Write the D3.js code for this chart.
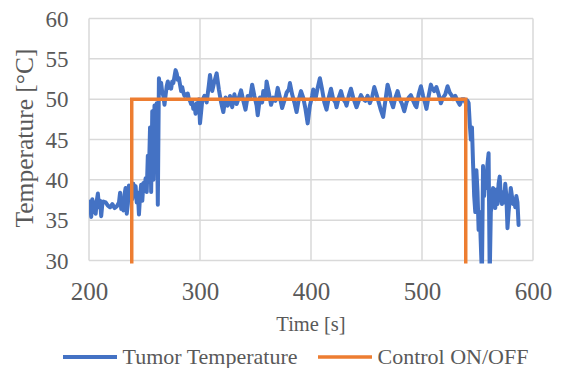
<!DOCTYPE html>
<html><head><meta charset="utf-8">
<script src="https://cdn.jsdelivr.net/npm/d3@7"></script>
<style>html,body{margin:0;padding:0;background:#fff;}svg{display:block;font-family:'Liberation Serif','Times New Roman',serif;}svg text{font-family:'Liberation Serif','Times New Roman',serif !important;}</style>
</head><body>
<svg id="chart" width="561" height="368"></svg>
<script>
const timeSec = [200,201,202,203,204,205,206,207,208,209,210,211,212,213,215,217,219,221,223,225,227,228,229,230,231,232,233,234,235,236,237,238,239,
240,241,242,243,244,245,246,247,248,249,250,251,252,253,254,255,256,257,258,259,260,261,262,263,264,265,266,267,268,269,270,271,272,273,274,275,276,277,278,279,280,281,282,283,284,285,286,287,288,289,290,291,292,293,294,295,296,297,298,299,
300,302,304,306,308,309,311,313,315,317,319,321,323,325,327,329,331,333,335,337,339,341,343,345,347,349,351,352,354,356,357,359,360,362,364,366,368,370,372,374,376,378,380,381,383,385,387,389,391,393,395,397,399,401,402,404,406,408,410,412,414,416,418,420,422,423,425,427,429,431,432,434,436,438,440,441,443,445,447,449,451,453,455,457,459,461,463,465,467,469,471,472,474,476,478,480,482,484,486,488,490,492,494,495,497,499,501,503,504,506,508,509,511,513,515,517,519,521,523,525,527,528,530,532,534,536,538,539,540,541,542,543,544,545,546,547,548,549,550,551,552,553,554,555,556,557,558,559,560,561,562,563,564,565,566,567,568,569,570,571,572,573,574,575,576,577,578,579,580,581,582,583,584,585,586,587];
const tumorTemp = [36.0,37.3,35.4,37.6,36.0,37.2,35.8,37.4,38.3,36.6,37.4,35.5,37.0,37.3,37.2,36.8,36.6,37.0,36.5,36.7,37.2,38.4,36.4,37.6,36.2,38.2,39.0,35.8,37.0,39.3,38.0,39.2,37.6,
39.5,38.0,39.2,37.2,38.4,35.7,38.0,39.4,37.4,39.6,38.6,40.2,38.5,43.0,41.0,46.5,38.5,48.5,40.0,49.2,44.0,49.5,36.9,52.6,51.5,52.0,50.8,50.4,49.3,50.5,51.6,52.2,51.4,51.8,51.3,52.2,52.0,52.8,53.6,53.2,52.4,52.6,51.8,51.0,51.5,50.8,50.4,50.6,50.4,50.7,50.0,49.8,49.4,49.7,48.8,49.3,48.2,49.5,48.6,50.0,
47.0,49.8,50.4,49.6,51.8,53.0,51.0,52.2,53.2,51.2,49.6,48.4,50.2,49.2,50.4,49.0,50.6,49.4,50.2,51.1,49.8,48.7,50.4,50.0,51.8,50.4,49.2,48.0,50.2,49.6,51.0,50.2,52.2,50.8,49.3,50.2,49.8,51.4,50.2,48.9,49.8,50.8,51.2,52.0,50.6,49.6,48.4,50.0,51.0,50.2,48.8,47.0,49.2,50.4,51.2,50.0,51.4,52.6,51.2,49.6,48.7,50.2,51.3,50.0,49.6,49.0,50.2,51.0,50.0,49.6,49.2,50.4,51.3,50.2,49.4,49.0,49.8,50.5,50.0,49.8,50.4,49.5,50.2,51.5,50.6,49.6,48.6,47.8,49.8,51.8,50.8,49.8,49.0,50.2,51.0,50.0,49.4,48.5,49.6,50.2,50.5,49.8,49.2,49.0,50.6,51.6,50.4,49.4,48.8,50.4,51.8,51.4,51.0,51.5,50.6,49.5,50.2,50.6,51.6,50.8,50.4,50.0,50.4,49.8,49.3,50.0,50.0,49.6,49.9,49.8,49.5,47.0,45.0,46.5,42.0,38.0,36.0,41.2,38.5,33.8,36.0,32.0,28.0,41.7,38.0,40.5,39.0,42.0,43.3,28.0,36.0,37.0,39.0,38.5,36.5,38.8,37.0,39.5,40.4,38.0,37.0,38.5,37.2,39.5,38.0,34.0,36.0,37.5,39.0,38.0,37.0,37.6,36.6,38.0,37.2,34.4];

const controlTime = [238.5, 238.5, 539.4, 539.4];
const controlValue = [0, 50, 50, 0];

const xTicks = [200, 300, 400, 500, 600];
const yTicks = [30, 35, 40, 45, 50, 55, 60];
const seriesNames = ["Tumor Temperature", "Control ON/OFF"];
const seriesColors = ["#4472C4", "#ED7D31"];

const svg = d3.select("#chart");
const pL = 89, pR = 533, pT = 18.5, pB = 260.5;
const x = d3.scaleLinear().domain([200, 600]).range([pL, pR]);
const y = d3.scaleLinear().domain([30, 60]).range([pB, pT]);
const font = "'Liberation Serif','Times New Roman',serif";
const textColor = "#595959";

// gridlines
svg.append("g").selectAll("line").data(yTicks).join("line")
  .attr("x1", pL).attr("x2", pR)
  .attr("y1", d => y(d)).attr("y2", d => y(d))
  .attr("stroke", "#D9D9D9").attr("stroke-width", 1.5);
svg.append("g").selectAll("line").data(xTicks).join("line")
  .attr("y1", pT).attr("y2", pB)
  .attr("x1", d => x(d)).attr("x2", d => x(d))
  .attr("stroke", "#D9D9D9").attr("stroke-width", 1.5);

// axes (labels only)
const xAxis = d3.axisBottom(x).tickValues(xTicks).tickSize(0).tickPadding(0).tickFormat(d3.format("d"));
const gx = svg.append("g").attr("transform", `translate(0,${pB})`).call(xAxis)
  .attr("font-family", font).attr("font-size", 25);
gx.select(".domain").remove();
gx.selectAll("text").attr("dy", null).attr("y", 39.5)
  .style("font-family", font).style("font-size", "25px").attr("fill", textColor);

const yAxis = d3.axisLeft(y).tickValues(yTicks).tickSize(0).tickPadding(0).tickFormat(d3.format("d"));
const gy = svg.append("g").attr("transform", `translate(68.5,0)`).call(yAxis)
  .attr("font-family", font).attr("font-size", 23);
gy.select(".domain").remove();
gy.selectAll("text").attr("dy", "0.34em")
  .style("font-family", font).style("font-size", "23px").attr("fill", textColor);

// clip
svg.append("defs").append("clipPath").attr("id", "plotclip")
  .append("rect").attr("x", pL).attr("y", pT - 3).attr("width", pR - pL).attr("height", pB - pT + 6);

const line = d3.line().x(d => x(d[0])).y(d => y(d[1]));
const g = svg.append("g").attr("clip-path", "url(#plotclip)");
g.append("path").datum(timeSec.map((t, i) => [t, tumorTemp[i]]))
  .attr("d", line).attr("fill", "none").attr("stroke", seriesColors[0])
  .attr("stroke-width", 4).attr("stroke-linejoin", "round").attr("stroke-linecap", "round");
g.append("path").datum(controlTime.map((t, i) => [t, controlValue[i]]))
  .attr("d", line).attr("fill", "none").attr("stroke", seriesColors[1])
  .attr("stroke-width", 3.5).attr("stroke-linejoin", "miter");

// axis titles
svg.append("text").attr("x", (pL + pR) / 2).attr("y", 330.5).attr("text-anchor", "middle")
  .style("font-family", font).style("font-size", "20.5px").attr("fill", textColor).text("Time [s]");
svg.append("text").attr("transform", `translate(33,138) rotate(-90)`).attr("text-anchor", "middle")
  .style("font-family", font).style("font-size", "25.5px").attr("fill", textColor).text("Temperature [°C]");

// legend
const legendX = [63, 318];
const lg = svg.append("g").selectAll("g").data(seriesNames).join("g")
  .attr("transform", (d, i) => `translate(${legendX[i]},357)`);
lg.append("line").attr("x1", 0).attr("x2", 54).attr("y1", 0).attr("y2", 0)
  .attr("stroke", (d, i) => seriesColors[i]).attr("stroke-width", (d, i) => i ? 3.5 : 4);
lg.append("text").attr("x", 59.5).attr("y", 7)
  .style("font-family", font).style("font-size", "22px").attr("fill", textColor).text(d => d);
</script>
</body></html>
